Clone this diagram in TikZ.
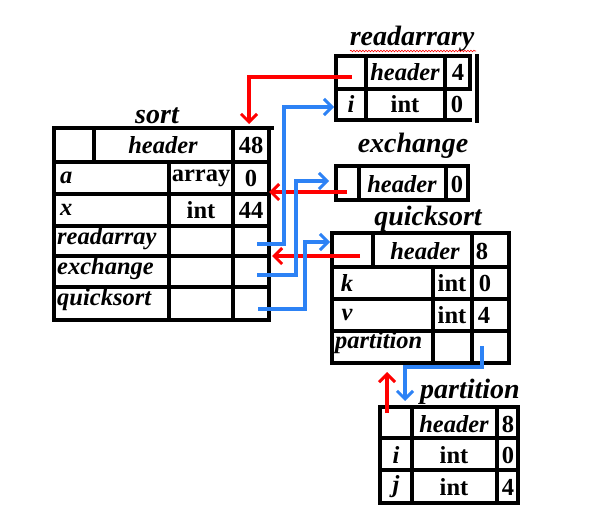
\documentclass[tikz,border=0pt]{standalone}
\usepackage{fontspec}
\setmainfont{Liberation Serif}
\usetikzlibrary{arrows.meta,decorations.pathmorphing}
\definecolor{myblue}{RGB}{45,130,245}
\tikzset{
  tl/.style={line width=3.3pt, line cap=rect},
  cell/.style={font=\fontsize{24.5}{26}\selectfont\bfseries, inner sep=0pt},
  lab/.style={cell, font=\fontsize{24.5}{26}\selectfont\bfseries\itshape},
  ttl/.style={inner sep=0pt, font=\fontsize{28}{30}\selectfont\bfseries\itshape},
  redarr/.style={red, line width=3.2pt, -{Straight Barb[length=8pt,width=16pt,line width=3pt]}},
  bluearr/.style={myblue, line width=3.2pt, -{Straight Barb[length=8pt,width=16pt,line width=3pt]}},
}
\begin{document}
\begin{tikzpicture}[x=1pt,y=-1pt]
\useasboundingbox[fill=white] (0,0) rectangle (593,519);

% ---------- sort ----------
\node[ttl] (sortT) at (157,116) {sort};
\draw[tl] (54,128) -- (272,128);
\draw[tl] (54,128) -- (54,320) -- (269,320) -- (269,130);
\foreach \yy in {162,194,226,256,287} \draw[tl] (54,\yy) -- (269,\yy);
\draw[tl] (94,128) -- (94,162);
\draw[tl] (233,128) -- (233,320);
\draw[tl] (169,162) -- (169,320);
\node[lab] (sH) at (163,145) {header};
\node[cell] (s48) at (251,145) {48};
\node[lab, anchor=west] (sa) at (60,178) {a};
\node[cell] (sarr) at (201,178) {array};
\node[cell] (s0) at (251,178) {0};
\node[lab, anchor=west] (sx) at (60,210) {x};
\node[cell] (sint) at (201,210) {int};
\node[cell] (s44) at (251,210) {44};
\node[lab, anchor=west] (sra) at (57,239) {readarray};
\node[lab, anchor=west] (sex) at (57,269) {exchange};
\node[lab, anchor=west] (sqs) at (57,300) {quicksort};

% ---------- readarrary ----------
\node[ttl] (rT) at (412,39) {readarrary};
\draw[red, line width=0.6pt, decorate, decoration={snake, segment length=3pt, amplitude=0.8pt}] (350,51) -- (476,51);
\draw[tl] (336,56) -- (470,56);
\draw[tl] (336,56) -- (336,120) -- (470,120);
\draw[tl] (336,89) -- (470,89);
\draw[tl] (366,56) -- (366,120);
\draw[tl] (445,56) -- (445,120);
\draw[tl] (470,56) -- (470,89);
\draw[tl] (477,56) -- (477,121);
\node[lab] (rH) at (405,72) {header};
\node[cell] (r4) at (458,72) {4};
\node[lab] (ri) at (351,104) {i};
\node[cell] (rint) at (405,104) {int};
\node[cell] (r0) at (457,104) {0};

% ---------- exchange ----------
\node[ttl] (eT) at (413,146) {exchange};
\draw[tl] (336,166) rectangle (468,200);
\draw[tl] (359,166) -- (359,200);
\draw[tl] (446,166) -- (446,200);
\node[lab] (eH) at (402,184) {header};
\node[cell] (e0) at (457,184) {0};

% ---------- quicksort ----------
\node[ttl] (qT) at (428,219) {quicksort};
\draw[tl] (332,233) rectangle (509,363);
\foreach \yy in {267,299,331} \draw[tl] (332,\yy) -- (509,\yy);
\draw[tl] (373,233) -- (373,265);
\draw[tl] (472,233) -- (472,363);
\draw[tl] (433,267) -- (433,363);
\node[lab] (qH) at (425,251) {header};
\node[cell] (q8) at (482,251) {8};
\node[lab] (qk) at (347,283) {k};
\node[cell] (qint1) at (452,283) {int};
\node[cell] (q0) at (485,283) {0};
\node[lab] (qv) at (347,315) {v};
\node[cell] (qint2) at (452,315) {int};
\node[cell] (q4) at (484,315) {4};
\node[lab, anchor=west] (qp) at (335,343) {partition};

% ---------- partition ----------
\node[ttl] (pT) at (470,392) {partition};
\draw[tl] (380,407) rectangle (518,503);
\draw[tl] (380,438) -- (518,438);
\draw[tl] (380,470) -- (518,470);
\draw[tl] (412,407) -- (412,503);
\draw[tl] (497,407) -- (497,503);
\node[lab] (pH) at (454,424) {header};
\node[cell] (p8) at (508,424) {8};
\node[lab] (pi) at (396,455) {i};
\node[cell] (pint1) at (454,455) {int};
\node[cell] (p0) at (508,455) {0};
\node[lab] (pj) at (396,487) {j};
\node[cell] (pint2) at (454,487) {int};
\node[cell] (p4) at (508,487) {4};

% ---------- connector ends ----------
\coordinate (rStart) at (352,77);
\coordinate (sTop) at (249,124);
\coordinate (eStart) at (347,192);
\coordinate (sMid) at (269,192);
\coordinate (qStart) at (360,256);
\coordinate (sExRow) at (272,256);
\coordinate (pStart) at (387,413);
\coordinate (qBot) at (387,372);
\coordinate (sRa) at (257,244);
\coordinate (rRow) at (334,107);
\coordinate (sEx) at (257,275);
\coordinate (eIn) at (329,181);
\coordinate (sQs) at (258,309);
\coordinate (qIn) at (330,242);
\coordinate (qPart) at (482,346);
\coordinate (pIn) at (405,401);

% ---------- red links ----------
\draw[redarr] (rStart) -| (sTop);
\draw[redarr] (eStart) -- (sMid);
\draw[redarr] (qStart) -- (sExRow);
\draw[redarr] (pStart) -- (qBot);

% ---------- blue links ----------
\draw[bluearr] (sRa) -- ++(27,0) |- (rRow);
\draw[bluearr] (sEx) -- ++(39,0) |- (eIn);
\draw[bluearr] (sQs) -- ++(47,0) |- (qIn);
\draw[bluearr] (qPart) -- ++(0,21) -| (pIn);
\end{tikzpicture}
\end{document}
